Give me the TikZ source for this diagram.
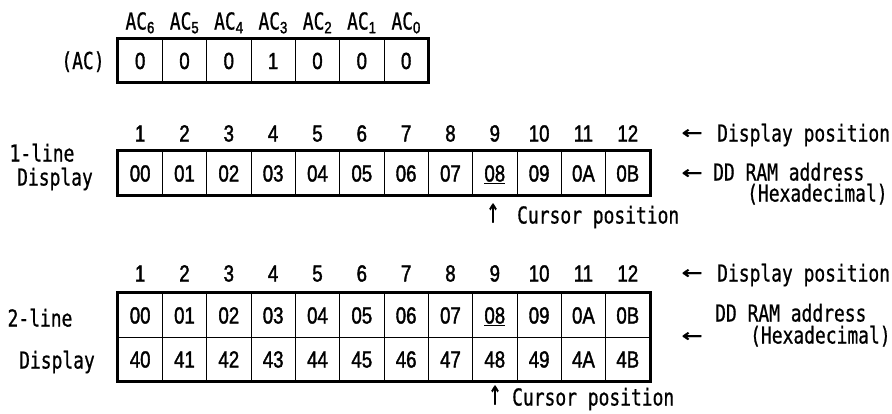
\documentclass[tikz,border=0pt]{standalone}
\usepackage{fontspec}
\setmainfont[FakeStretch=0.77,FakeBold=0.8]{DejaVu Sans Mono}
\newfontfamily\numfont[FakeStretch=0.8,FakeBold=1.6]{Liberation Sans}
\usepackage{graphicx}
\usepackage{tikz}
\usetikzlibrary{fit,positioning}

\newcommand{\leftarr}{\scalebox{1.9}[1]{←}}
\newcommand{\uparr}{\scalebox{1.2}[1.5]{↑}}

\begin{document}
\begin{tikzpicture}[
  x=1pt, y=-1pt,
  font=\fontsize{23.3}{25}\selectfont,
  lbl/.style={inner sep=0pt, text height=17pt, text depth=0pt},
  num/.style={lbl, font=\fontsize{23.3}{25}\numfont},
  note/.style={lbl, anchor=west},
  cell/.style={num, draw, line width=0.9pt, minimum width=44.33pt, minimum height=44pt},
  regframe/.style={draw, line width=3pt, inner sep=0pt}
]
\useasboundingbox (0,0) rectangle (892,413);
% AC register
\node[lbl] (aclabel) at (83,60.5) {(AC)};
\foreach \v [count=\i] in {0,0,0,1,0,0,0} {
  \pgfmathsetmacro\x{118+44.33*(\i-0.5)}
  \pgfmathtruncatemacro\b{7-\i}
  \node[lbl] (acbit-\i) at (\x,21) {AC\textsubscript{\numfont\b}};
  \node[cell] (ac-\i) at (\x,60.5) {\v};
}
\node[regframe, fit=(ac-1)(ac-7)] (acframe) {};
% 1-line display
\node[lbl] (oneline) at (42,153) {1-line};
\node[lbl] (onedisp) at (55,177) {Display};
\foreach \v [count=\i] in {00,01,02,03,04,05,06,07,\underline{08},09,0A,0B} {
  \pgfmathsetmacro\x{118+44.33*(\i-0.5)}
  \node[num] (posa-\i) at (\x,133) {\i};
  \node[cell] (one-\i) at (\x,173) {\v};
}
\node[regframe, fit=(one-1)(one-12)] (oneframe) {};
\node[lbl] (posarra) at (692,131) {\leftarr};
\node[note] (posnotea) at (717,133) {Display position};
\node[lbl] (addrarra) at (692,171) {\leftarr};
\node[note] (addrnotea) at (713,172) {DD RAM address};
\node[note] (hexnotea) at (747,193) {(Hexadecimal)};
\node[lbl] (curarra) at (493,214) {\uparr};
\node[note] (curnotea) at (517,215) {Cursor position};
% 2-line display
\node[lbl] (twoline) at (40,318) {2-line};
\node[lbl] (twodisp) at (57,360) {Display};
\foreach \v/\w [count=\i] in {00/40,01/41,02/42,03/43,04/44,05/45,06/46,07/47,\underline{08}/48,09/49,0A/4A,0B/4B} {
  \pgfmathsetmacro\x{118+44.33*(\i-0.5)}
  \node[num] (posb-\i) at (\x,273) {\i};
  \node[cell] (twoa-\i) at (\x,315) {\v};
  \node[cell] (twob-\i) at (\x,359) {\w};
}
\node[regframe, fit=(twoa-1)(twob-12)] (twoframe) {};
\node[lbl] (posarrb) at (692,271) {\leftarr};
\node[note] (posnoteb) at (717,273) {Display position};
\node[note] (addrnoteb) at (715,313) {DD RAM address};
\node[lbl] (addrarrb) at (692,334) {\leftarr};
\node[note] (hexnoteb) at (750,335) {(Hexadecimal)};
\node[lbl] (curarrb) at (495,396) {\uparr};
\node[note] (curnoteb) at (512,397) {Cursor position};
\end{tikzpicture}
\end{document}
